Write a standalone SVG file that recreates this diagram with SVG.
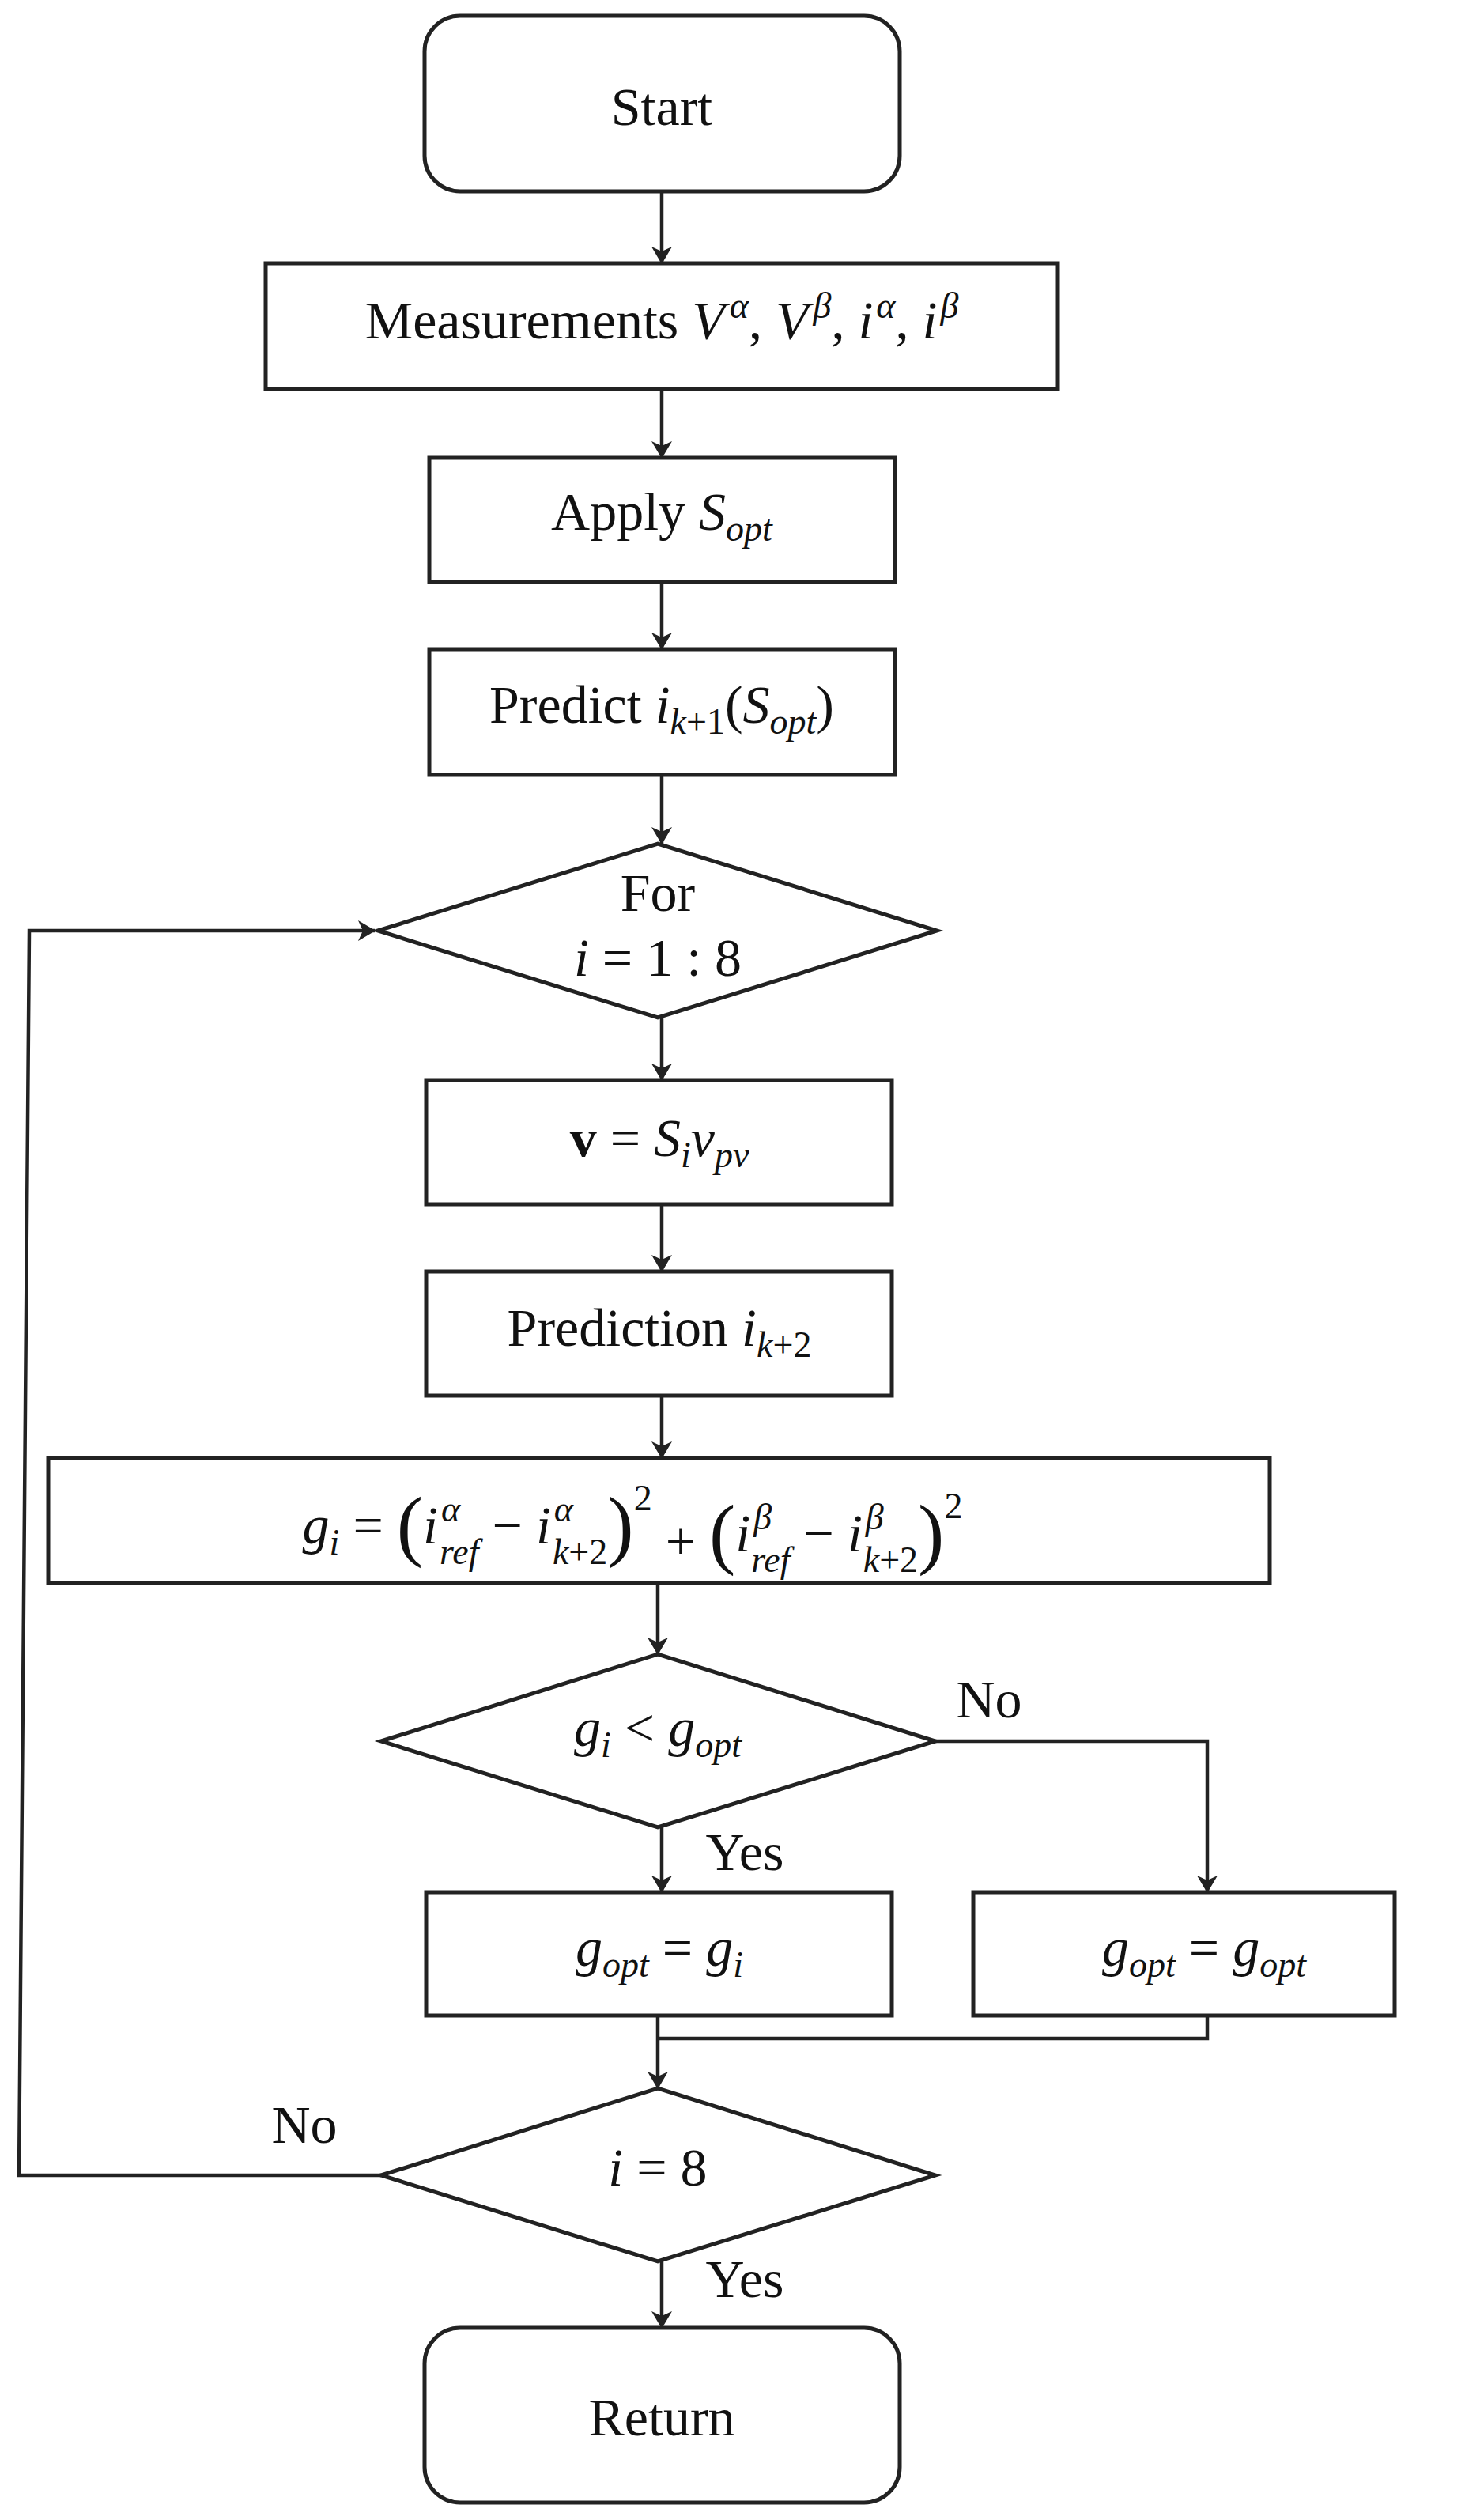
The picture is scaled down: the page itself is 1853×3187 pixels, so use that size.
<svg xmlns="http://www.w3.org/2000/svg" width="1853" height="3187" viewBox="0 0 1853 3187">
<style>
.s{fill:#fff;stroke:#222;stroke-width:5}
.c{fill:none;stroke:#222;stroke-width:4.5}
text{font-family:"Liberation Serif","DejaVu Serif",serif;font-size:68px;fill:#111;text-anchor:middle}
.i{font-style:italic}
.sub{font-size:46px}
</style>
<defs><marker id="a" markerWidth="22" markerHeight="26" refX="21" refY="13" orient="auto" markerUnits="userSpaceOnUse" viewBox="0 0 22 26"><path d="M0,0 L22,13 L0,26 L6,13z" fill="#222"/></marker></defs>
<rect width="1853" height="3187" fill="#fff"/>
<g id="connectors" class="c">
<path d="M837 242V333" marker-end="url(#a)"/>
<path d="M837 492V579" marker-end="url(#a)"/>
<path d="M837 736V821" marker-end="url(#a)"/>
<path d="M837 980V1067" marker-end="url(#a)"/>
<path d="M837 1287V1366" marker-end="url(#a)"/>
<path d="M837 1523V1608" marker-end="url(#a)"/>
<path d="M837 1765V1844" marker-end="url(#a)"/>
<path d="M832 2002V2092" marker-end="url(#a)"/>
<path d="M837 2311V2393" marker-end="url(#a)"/>
<path d="M1183 2202H1527V2393" marker-end="url(#a)"/>
<path d="M832 2549V2641" marker-end="url(#a)"/>
<path d="M1527 2549V2578H832"/>
<path d="M837 2860V2944" marker-end="url(#a)"/>
<path d="M482 2751H24L37 1177H474" marker-end="url(#a)"/>
</g>
<g id="start"><rect class="s" x="537" y="20" width="601" height="222" rx="45"/><text x="837" y="158">Start</text></g>
<g id="measure"><rect class="s" x="336" y="333" width="1002" height="159"/><text x="837" y="428">Measurements <tspan class="i">V</tspan><tspan class="i sub" dx="6" dy="-26">α</tspan><tspan dy="26">, </tspan><tspan class="i">V</tspan><tspan class="i sub" dx="6" dy="-26">β</tspan><tspan dy="26">, </tspan><tspan class="i">i</tspan><tspan class="i sub" dx="4" dy="-26">α</tspan><tspan dy="26">, </tspan><tspan class="i">i</tspan><tspan class="i sub" dx="4" dy="-26">β</tspan></text></g>
<g id="apply"><rect class="s" x="543" y="579" width="589" height="157"/><text x="837" y="670">Apply <tspan class="i">S</tspan><tspan class="i sub" dy="14">opt</tspan></text></g>
<g id="predict"><rect class="s" x="543" y="821" width="589" height="159"/><text x="837" y="914">Predict <tspan class="i">i</tspan><tspan class="sub" dy="14"><tspan class="i">k</tspan>+1</tspan><tspan dy="-14">(</tspan><tspan class="i">S</tspan><tspan class="i sub" dy="14">opt</tspan><tspan dy="-14">)</tspan></text></g>
<g id="for"><path class="s" d="M478 1177L832 1067L1185 1177L832 1287Z"/><text x="832" y="1152">For</text><text x="832" y="1234"><tspan class="i">i</tspan> = 1 : 8</text></g>
<g id="v"><rect class="s" x="539" y="1366" width="589" height="157"/><text x="834" y="1462"><tspan font-weight="bold">v</tspan> = <tspan class="i">S</tspan><tspan class="i sub" dy="14">i</tspan><tspan class="i" dy="-14">v</tspan><tspan class="i sub" dy="14">pv</tspan></text></g>
<g id="prediction"><rect class="s" x="539" y="1608" width="589" height="157"/><text x="834" y="1702">Prediction <tspan class="i">i</tspan><tspan class="sub" dy="14"><tspan class="i">k</tspan>+2</tspan></text></g>
<g id="gi"><rect class="s" x="61" y="1844" width="1545" height="158"/><text x="800" y="1952"><tspan class="i">g</tspan><tspan class="i sub" dy="14">i</tspan><tspan dy="-14"> = </tspan><tspan font-size="100" dy="10">(</tspan><tspan class="i" dy="-10">i</tspan><tspan class="i sub" dx="4" dy="-28">α</tspan><tspan class="i sub" dx="-26" dy="54">ref</tspan><tspan dy="-26"> − </tspan><tspan class="i">i</tspan><tspan class="i sub" dx="4" dy="-28">α</tspan><tspan class="sub" dx="-26" dy="54"><tspan class="i">k</tspan>+2</tspan><tspan font-size="100" dy="-16">)</tspan><tspan class="sub" dy="-52">2</tspan><tspan dy="62"> + </tspan><tspan font-size="100">(</tspan><tspan class="i" dy="-10">i</tspan><tspan class="i sub" dx="4" dy="-28">β</tspan><tspan class="i sub" dx="-26" dy="54">ref</tspan><tspan dy="-26"> − </tspan><tspan class="i">i</tspan><tspan class="i sub" dx="4" dy="-28">β</tspan><tspan class="sub" dx="-26" dy="54"><tspan class="i">k</tspan>+2</tspan><tspan font-size="100" dy="-16">)</tspan><tspan class="sub" dy="-52">2</tspan></text></g>
<g id="cmp"><path class="s" d="M482 2202L832 2092L1183 2202L832 2311Z"/><text x="832" y="2208"><tspan class="i">g</tspan><tspan class="i sub" dy="14">i</tspan><tspan dy="-14"> &lt; </tspan><tspan class="i">g</tspan><tspan class="i sub" dy="14">opt</tspan></text></g>
<g id="set1"><rect class="s" x="539" y="2393" width="589" height="156"/><text x="834" y="2486"><tspan class="i">g</tspan><tspan class="i sub" dy="14">opt</tspan><tspan dy="-14"> = </tspan><tspan class="i">g</tspan><tspan class="i sub" dy="14">i</tspan></text></g>
<g id="set2"><rect class="s" x="1231" y="2393" width="533" height="156"/><text x="1523" y="2486"><tspan class="i">g</tspan><tspan class="i sub" dy="14">opt</tspan><tspan dy="-14"> = </tspan><tspan class="i">g</tspan><tspan class="i sub" dy="14">opt</tspan></text></g>
<g id="end8"><path class="s" d="M482 2751L832 2641L1183 2751L832 2860Z"/><text x="832" y="2764"><tspan class="i">i</tspan> = 8</text></g>
<g id="ret"><rect class="s" x="537" y="2944" width="601" height="221" rx="45"/><text x="837" y="3080">Return</text></g>
<g id="labels"><text x="1251" y="2172">No</text><text x="942" y="2365">Yes</text><text x="385" y="2710">No</text><text x="942" y="2905">Yes</text></g>
</svg>
